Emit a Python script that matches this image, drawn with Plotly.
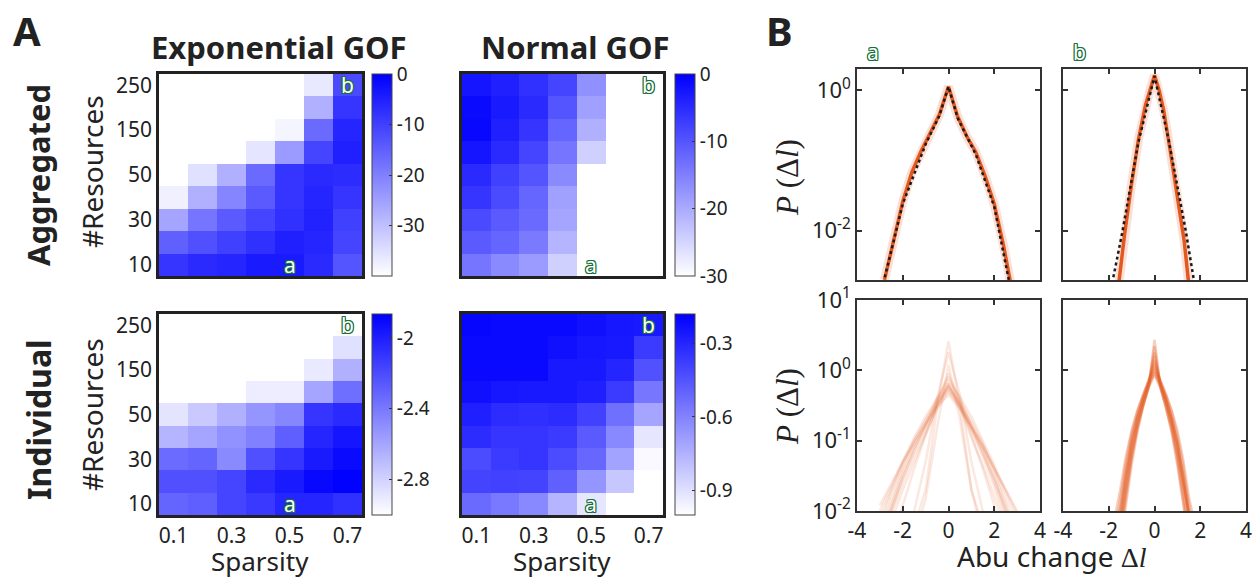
import plotly.graph_objects as go

W, H = 1252, 577

# ---------------- DATA ----------------
sparsity = [0.1, 0.2, 0.3, 0.4, 0.5, 0.6, 0.7]
resources = ['10', '20', '30', '40', '50', '100', '150', '200', '250']
x_ticks = [0.1, 0.3, 0.5, 0.7]
y_ticks = ['10', '30', '50', '150', '250']

# rows: resources 10 -> 250 ; columns: sparsity 0.1 -> 0.7
exp_agg = [
    [-8.3, -6.6, -5.8, -4.1, -4.1, -6.6, -13.3],
    [-15.1, -12.5, -10.0, -7.5, -5.0, -5.8, -10.8],
    [-25.9, -18.4, -14.1, -10.8, -7.5, -5.3, -10.0],
    [-37.6, -27.6, -20.9, -14.1, -8.3, -5.8, -8.3],
    [-42, -35.1, -27.6, -16.6, -8.3, -6.6, -6.9],
    [-42, -42, -42, -35.9, -24.2, -10.8, -5.0],
    [-42, -42, -42, -42, -38.4, -16.6, -5.8],
    [-42, -42, -42, -42, -42, -27.6, -8.3],
    [-42, -42, -42, -42, -42, -36.4, -11.6],
]
norm_agg = [
    [-13.8, -16.2, -18.1, -24.5, -32, -32, -32],
    [-10.6, -11.9, -14.4, -21.3, -32, -32, -32],
    [-8.7, -10.6, -12.5, -19.4, -32, -32, -32],
    [-6.2, -8.7, -11.9, -18.8, -32, -32, -32],
    [-4.9, -7.5, -10.0, -16.2, -32, -32, -32],
    [-2.5, -4.9, -8.1, -13.8, -24.5, -32, -32],
    [-0.9, -3.8, -6.2, -11.9, -20.7, -32, -32],
    [-1.2, -3.1, -4.9, -10.0, -18.8, -32, -32],
    [-2.5, -3.8, -5.6, -8.1, -16.9, -32, -32],
]
exp_ind = [
    [-2.31, -2.29, -2.17, -2.12, -2.03, -2.03, -2.08],
    [-2.22, -2.22, -2.17, -2.05, -1.98, -1.90, -1.87],
    [-2.34, -2.31, -2.48, -2.22, -2.10, -1.98, -1.91],
    [-2.67, -2.60, -2.51, -2.44, -2.29, -2.03, -1.96],
    [-2.88, -2.76, -2.65, -2.53, -2.46, -2.10, -2.05],
    [-3.05, -3.05, -3.05, -2.92, -2.92, -2.60, -2.36],
    [-3.05, -3.05, -3.05, -3.05, -3.05, -2.90, -2.65],
    [-3.05, -3.05, -3.05, -3.05, -3.05, -3.05, -2.86],
    [-3.05, -3.05, -3.05, -3.05, -3.05, -3.05, -3.05],
]
norm_ind = [
    [-0.52, -0.57, -0.62, -0.76, -0.92, -1.02, -1.02],
    [-0.40, -0.39, -0.40, -0.49, -0.66, -0.82, -1.02],
    [-0.42, -0.37, -0.35, -0.42, -0.51, -0.70, -0.98],
    [-0.32, -0.35, -0.35, -0.37, -0.47, -0.62, -0.92],
    [-0.28, -0.32, -0.33, -0.32, -0.39, -0.54, -0.71],
    [-0.23, -0.25, -0.26, -0.26, -0.28, -0.37, -0.56],
    [-0.21, -0.21, -0.21, -0.26, -0.26, -0.30, -0.44],
    [-0.21, -0.21, -0.21, -0.23, -0.25, -0.26, -0.37],
    [-0.20, -0.21, -0.21, -0.21, -0.23, -0.25, -0.26],
]
cb_ranges = [(-40, 0), (-30, 0), (-3.0, -1.865), (-1.0, -0.18)]
cb_ticks = [[0, -10, -20, -30], [0, -10, -20, -30], [-2, -2.4, -2.8], [-0.3, -0.6, -0.9]]
cb_ticktext = [['0', '-10', '-20', '-30'], ['0', '-10', '-20', '-30'],
               ['-2', '-2.4', '-2.8'], ['-0.3', '-0.6', '-0.9']]

# Panel B: aggregated distributions (a, b)
agg_a_x = [-2.8, -2.4, -2.0, -1.6, -1.2, -0.8, -0.4, 0.0, 0.4, 0.8, 1.2, 1.6, 2.0, 2.4, 2.8]
agg_a_p = [0.0020, 0.0076, 0.026, 0.068, 0.135, 0.245, 0.45, 1.12, 0.42, 0.22, 0.13, 0.060, 0.024, 0.0063, 0.0013]
fit_a_x = [-2.85, -2.0, -1.0, -0.4, 0.0, 0.4, 1.2, 2.0, 2.65]
fit_a_p = [0.0018, 0.024, 0.17, 0.43, 1.12, 0.40, 0.12, 0.022, 0.0019]

agg_b_x = [-1.6, -1.3, -1.0, -0.7, -0.4, -0.2, 0.0, 0.2, 0.4, 0.7, 1.0, 1.3, 1.5]
agg_b_p = [0.0014, 0.0093, 0.047, 0.20, 0.60, 1.0, 1.62, 1.0, 0.52, 0.13, 0.032, 0.0071, 0.0017]
fit_b_x = [-1.85, -1.4, -0.71, 0.0, 0.62, 1.37, 1.72]
fit_b_p = [0.0018, 0.0098, 0.178, 1.58, 0.195, 0.0098, 0.002]

# Panel B: individual distributions
ind_a_x = [-3, -2.5, -2, -1.5, -1, -0.5, 0, 0.5, 1, 1.5, 2, 2.5, 3]
ind_a_p = [
    [0.004, 0.012, 0.035, 0.08, 0.16, 0.32, 0.56, 0.32, 0.16, 0.075, 0.03, 0.01, 0.003],
    [0.006, 0.018, 0.045, 0.1, 0.2, 0.38, 0.62, 0.36, 0.19, 0.09, 0.04, 0.014, 0.005],
    [0.003, 0.009, 0.025, 0.06, 0.13, 0.28, 0.5, 0.3, 0.14, 0.06, 0.022, 0.007, 0.002],
    [0.008, 0.02, 0.05, 0.11, 0.22, 0.4, 0.7, 0.42, 0.22, 0.1, 0.045, 0.018, 0.007],
    [0.002, 0.007, 0.02, 0.05, 0.12, 0.3, 0.65, 0.3, 0.11, 0.045, 0.016, 0.005, 0.002],
    [0.005, 0.014, 0.04, 0.09, 0.18, 0.35, 0.58, 0.34, 0.17, 0.085, 0.035, 0.012, 0.004],
    [0.01, 0.022, 0.05, 0.1, 0.18, 0.33, 0.52, 0.3, 0.16, 0.085, 0.04, 0.02, 0.009],
    [0.0005, 0.001, 0.002, 0.006, 0.02, 0.3, 2.6, 0.3, 0.02, 0.006, 0.002, 0.001, 0.0005],
    [0.0005, 0.001, 0.003, 0.01, 0.05, 0.4, 1.8, 0.45, 0.05, 0.01, 0.003, 0.001, 0.0005],
    [0.001, 0.003, 0.012, 0.04, 0.12, 0.35, 0.9, 0.35, 0.12, 0.04, 0.012, 0.003, 0.001],
    [0.003, 0.01, 0.03, 0.075, 0.17, 0.4, 0.8, 0.4, 0.16, 0.07, 0.026, 0.009, 0.003],
    [0.012, 0.025, 0.05, 0.09, 0.17, 0.3, 0.45, 0.28, 0.15, 0.08, 0.04, 0.02, 0.01],
    [0.004, 0.011, 0.03, 0.07, 0.15, 0.33, 0.6, 0.33, 0.15, 0.065, 0.028, 0.011, 0.004],
    [0.0005, 0.001, 0.002, 0.004, 0.015, 0.15, 1.2, 0.2, 0.02, 0.004, 0.001, 0.0005, 0.0005],
]
ind_b_x = [-2, -1.5, -1.25, -1, -0.75, -0.5, -0.25, 0, 0.25, 0.5, 0.75, 1, 1.25, 1.5, 2]
ind_b_p = [
    [0.001, 0.008, 0.03, 0.09, 0.2, 0.38, 0.65, 1.6, 0.65, 0.38, 0.2, 0.09, 0.03, 0.008, 0.001],
    [0.001, 0.006, 0.022, 0.07, 0.17, 0.33, 0.6, 2.2, 0.62, 0.34, 0.17, 0.07, 0.024, 0.007, 0.001],
    [0.002, 0.012, 0.04, 0.11, 0.23, 0.42, 0.7, 1.1, 0.7, 0.42, 0.22, 0.1, 0.035, 0.01, 0.002],
    [0.001, 0.004, 0.015, 0.055, 0.15, 0.32, 0.6, 0.95, 0.6, 0.3, 0.14, 0.05, 0.014, 0.004, 0.001],
    [0.002, 0.015, 0.05, 0.13, 0.26, 0.45, 0.72, 1.3, 0.72, 0.45, 0.26, 0.12, 0.045, 0.013, 0.002],
    [0.001, 0.005, 0.02, 0.065, 0.16, 0.34, 0.62, 2.7, 0.63, 0.35, 0.17, 0.066, 0.022, 0.006, 0.001],
    [0.001, 0.009, 0.032, 0.095, 0.21, 0.4, 0.66, 0.9, 0.66, 0.4, 0.21, 0.095, 0.032, 0.009, 0.001],
    [0.0015, 0.01, 0.035, 0.1, 0.22, 0.4, 0.68, 1.8, 0.66, 0.39, 0.2, 0.09, 0.03, 0.008, 0.001],
    [0.001, 0.003, 0.012, 0.045, 0.13, 0.3, 0.58, 1.2, 0.58, 0.3, 0.13, 0.045, 0.013, 0.003, 0.001],
    [0.003, 0.02, 0.06, 0.14, 0.27, 0.46, 0.74, 1.0, 0.73, 0.46, 0.27, 0.14, 0.055, 0.016, 0.003],
    [0.001, 0.007, 0.026, 0.08, 0.19, 0.37, 0.64, 1.4, 0.64, 0.37, 0.19, 0.08, 0.026, 0.007, 0.001],
    [0.001, 0.005, 0.018, 0.06, 0.15, 0.31, 0.57, 0.85, 0.57, 0.31, 0.15, 0.06, 0.018, 0.005, 0.001],
]
b_xticks = [-4, -2, 0, 2, 4]

# ---------------- LAYOUT HELPERS ----------------
SANS = "Noto Sans"
SERIF = "Liberation Serif"
TXT = "#222222"
GREEN = "#17703a"
ORANGE = "#E2581F"


def px(x):
    return x / W


def py(y):
    return 1 - y / H


# pixel boxes: (left, top, right, bottom)
heat_boxes = [(159, 74, 362, 276), (462, 74, 663, 276), (159, 314, 362, 515), (462, 314, 663, 515)]
cb_x = [372, 675, 372, 675]
b_boxes = [(857, 69, 1040, 280), (1063, 69, 1246, 280), (857, 300, 1040, 511), (1063, 300, 1246, 511)]

fig = go.Figure()
layout = dict(width=W, height=H, template="none",
              margin=dict(l=0, r=0, t=0, b=0, pad=0, autoexpand=False),
              paper_bgcolor="white", plot_bgcolor="white", showlegend=False,
              font=dict(family=SANS, color=TXT))

zs = [exp_agg, norm_agg, exp_ind, norm_ind]
for i, z in enumerate(zs):
    n = i + 1
    xa = "x" if n == 1 else f"x{n}"
    ya = "y" if n == 1 else f"y{n}"
    ca = "coloraxis" if n == 1 else f"coloraxis{n}"
    fig.add_trace(go.Heatmap(x=sparsity, y=resources, z=z, coloraxis=ca,
                             xaxis=xa, yaxis=ya, hoverinfo="skip"))
    l, t, r, b = heat_boxes[i]
    zmin, zmax = cb_ranges[i]
    layout[ca] = dict(
        cmin=zmin, cmax=zmax,
        colorscale=[[0, "#ffffff"], [1, "#0000ff"]],
        colorbar=dict(x=px(cb_x[i]), xanchor="left", y=py(t), yanchor="top",
                      lenmode="pixels", len=b - t, thickness=20,
                      xpad=0, ypad=0, outlinewidth=1, outlinecolor="#444",
                      tickvals=cb_ticks[i], ticktext=cb_ticktext[i],
                      ticks="inside", ticklen=3, tickcolor="#333",
                      tickfont=dict(family=SANS, size=19, color=TXT)))
    axn = "" if n == 1 else str(n)
    layout["xaxis" + axn] = dict(
        domain=[px(l), px(r)], anchor=ya, range=[0.05, 0.75], automargin=False,
        showline=True, mirror=True, linecolor="#222", linewidth=2.5,
        ticks="", showgrid=False, zeroline=False,
        tickvals=x_ticks, ticktext=[str(v) for v in x_ticks],
        showticklabels=(n >= 3), tickfont=dict(family=SANS, size=21, color=TXT))
    layout["yaxis" + axn] = dict(
        domain=[py(b), py(t)], anchor=xa, type="category", automargin=False,
        categoryorder="array", categoryarray=resources, range=[-0.5, 8.5],
        showline=True, mirror=True, linecolor="#222", linewidth=2.5,
        ticks="", showgrid=False, zeroline=False,
        tickmode="array", tickvals=y_ticks, ticktext=y_ticks,
        showticklabels=(n in (1, 3)), tickfont=dict(family=SANS, size=21, color=TXT))

# ---- Panel B axes ----
for j in range(4):
    n = j + 5
    l, t, r, b = b_boxes[j]
    top = j < 2
    layout[f"xaxis{n}"] = dict(
        domain=[px(l), px(r)], anchor=f"y{n}", range=[-4, 4], automargin=False,
        showline=True, mirror="allticks", linecolor="#333", linewidth=1.5,
        ticks="inside", ticklen=5, tickwidth=1.5, tickcolor="#333",
        tickvals=b_xticks, ticktext=[str(v) for v in b_xticks],
        ticklabeloverflow="allow",
        showticklabels=not top, showgrid=False, zeroline=False,
        tickfont=dict(family=SANS, size=21, color=TXT))
    if top:
        yv, yt, yr = [0.01, 1], ["10<sup>-2</sup>", "10<sup>0</sup>"], [-2.7, 0.3]
    else:
        yv = [0.01, 0.1, 1, 10]
        yt = ["10<sup>-2</sup>", "10<sup>-1</sup>", "10<sup>0</sup>", "10<sup>1</sup>"]
        yr = [-2, 1]
    layout[f"yaxis{n}"] = dict(
        domain=[py(b), py(t)], anchor=f"x{n}", type="log", range=yr, automargin=False,
        showline=True, mirror="allticks", linecolor="#333", linewidth=1.5,
        ticks="inside", ticklen=5, tickwidth=1.5, tickcolor="#333",
        tickvals=yv, ticktext=yt, showticklabels=(j % 2 == 0),
        ticklabeloverflow="allow",
        showgrid=False, zeroline=False,
        tickfont=dict(family=SANS, size=22, color=TXT))

# top panels: shaded band + main curve + dotted fit
for n, xs, ps, fx, fp in [(5, agg_a_x, agg_a_p, fit_a_x, fit_a_p),
                          (6, agg_b_x, agg_b_p, fit_b_x, fit_b_p)]:
    fig.add_trace(go.Scatter(x=xs, y=ps, mode="lines", xaxis=f"x{n}", yaxis=f"y{n}",
                             line=dict(color="rgba(235,130,95,0.25)", width=9),
                             hoverinfo="skip"))
    fig.add_trace(go.Scatter(x=xs, y=ps, mode="lines", xaxis=f"x{n}", yaxis=f"y{n}",
                             line=dict(color=ORANGE, width=3.5), hoverinfo="skip"))
    fig.add_trace(go.Scatter(x=fx, y=fp, mode="lines", xaxis=f"x{n}", yaxis=f"y{n}",
                             line=dict(color="#1a1a1a", width=2.5, dash="dot"),
                             hoverinfo="skip"))

for ps in ind_a_p:
    fig.add_trace(go.Scatter(x=ind_a_x, y=ps, mode="lines", xaxis="x7", yaxis="y7",
                             line=dict(color="rgba(228,110,65,0.16)", width=2.5),
                             hoverinfo="skip"))
for ps in ind_b_p:
    fig.add_trace(go.Scatter(x=ind_b_x, y=ps, mode="lines", xaxis="x8", yaxis="y8",
                             line=dict(color="rgba(230,95,40,0.30)", width=2.5),
                             hoverinfo="skip"))

# ---------------- ANNOTATIONS ----------------
ann = []


def text(x, y, s, size, bold=False, angle=0, family=SANS, color=TXT, **kw):
    d = dict(x=px(x), y=py(y), xref="paper", yref="paper", text=s, showarrow=False,
             textangle=angle, xanchor="center", yanchor="middle",
             font=dict(family=family, size=size, color=color,
                       weight="bold" if bold else "normal"))
    d.update(kw)
    ann.append(d)


text(27, 31, "A", 40, bold=True)
text(779, 31, "B", 40, bold=True)
text(279, 47, "Exponential GOF", 31, bold=True)
text(575, 47, "Normal GOF", 31, bold=True)
text(38, 175, "Aggregated", 31, bold=True, angle=-90)
text(38, 420, "Individual", 32, bold=True, angle=-90)
text(92, 172, "#Resources", 28, angle=-90)
text(92, 415, "#Resources", 28, angle=-90)
text(260, 561, "Sparsity", 26)
text(562, 561, "Sparsity", 26)
text(787, 178, "<i>P</i> (Δ<i>l</i>)", 31, angle=-90, family=SERIF)
text(787, 407, "<i>P</i> (Δ<i>l</i>)", 31, angle=-90, family=SERIF)
text(1052, 556, "Abu change <span style='font-family:Liberation Serif'>Δ<i>l</i></span>", 28)

OUTLINE = (f"-1px -1px 0 {GREEN}, 1px -1px 0 {GREEN}, -1px 1px 0 {GREEN}, "
           f"1px 1px 0 {GREEN}, 0 1px 0 {GREEN}, 1px 0 0 {GREEN}, 0 -1px 0 {GREEN}, -1px 0 0 {GREEN}")
for n in (1, 2, 3, 4):
    xa = "x" if n == 1 else f"x{n}"
    ya = "y" if n == 1 else f"y{n}"
    for lab, xv, yv in [("a", 0.5, 0), ("b", 0.7, 8)]:
        ann.append(dict(x=xv, y=yv, xref=xa, yref=ya, text=lab, showarrow=False,
                        font=dict(family=SANS, size=21, color="white", shadow=OUTLINE)))
for lab, x in [("a", 873), ("b", 1079)]:
    text(x, 52, lab, 21, color="white", family=SANS)
    ann[-1]["font"]["shadow"] = OUTLINE

layout["annotations"] = ann
fig.update_layout(**layout)
fig.write_html("out.html")
